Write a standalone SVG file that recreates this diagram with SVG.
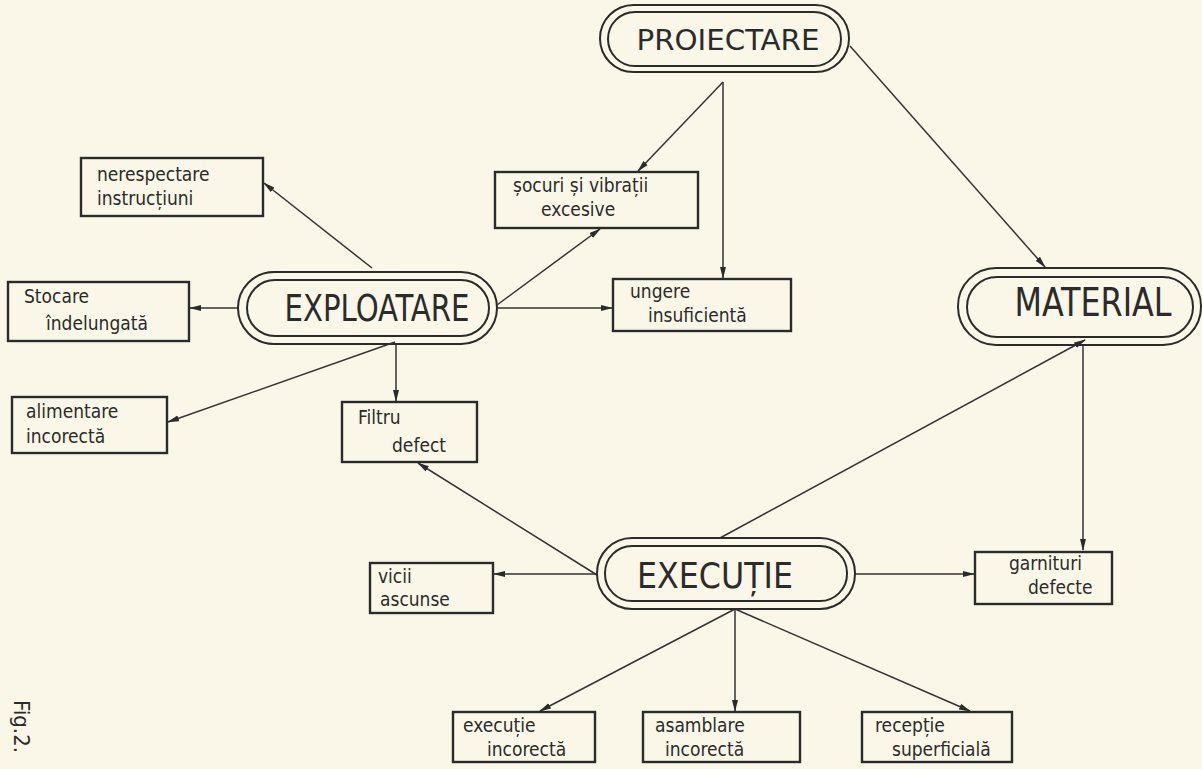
<svg xmlns="http://www.w3.org/2000/svg" width="1202" height="769" viewBox="0 0 1202 769">
<style>
.bg{fill:#faf7e8}
.o{fill:none;stroke:#2b2b2b;stroke-width:2}
.b{fill:none;stroke:#2b2b2b;stroke-width:2.4}
.big{font-family:"DejaVu Sans Condensed","DejaVu Sans",sans-serif;fill:#2b2b2b;text-anchor:middle}
.sm{font-family:"DejaVu Sans Condensed","DejaVu Sans",sans-serif;font-size:19px;fill:#2b2b2b}
.c{fill:none;stroke:#333;stroke-width:1.5;marker-end:url(#ah)}
</style>
<defs>
<marker id="ah" viewBox="0 0 12 8" refX="11" refY="4" markerWidth="12" markerHeight="8" markerUnits="userSpaceOnUse" orient="auto">
<path d="M0,1 L12,4 L0,7 Z" fill="#2b2b2b"/>
</marker>
</defs>
<rect class="bg" x="0" y="0" width="1202" height="769"/>
<g id="connectors">
<line class="c" x1="723" y1="82" x2="638" y2="171"/>
<line class="c" x1="723" y1="82" x2="723" y2="278"/>
<line class="c" x1="850" y1="46" x2="1045" y2="267"/>
<line class="c" x1="372" y1="268" x2="264" y2="183"/>
<line class="c" x1="497" y1="305" x2="600" y2="229"/>
<line class="c" x1="497" y1="308" x2="612" y2="308"/>
<line class="c" x1="238" y1="308" x2="190" y2="308"/>
<line class="c" x1="395" y1="342" x2="168" y2="422"/>
<line class="c" x1="396" y1="344" x2="396" y2="401"/>
<line class="c" x1="597" y1="575" x2="418" y2="463"/>
<line class="c" x1="720" y1="538" x2="1085" y2="340"/>
<line class="c" x1="1083" y1="345" x2="1083" y2="550"/>
<line class="c" x1="597" y1="574" x2="494" y2="574"/>
<line class="c" x1="855" y1="574" x2="974" y2="574"/>
<line class="c" x1="735" y1="609" x2="540" y2="711"/>
<line class="c" x1="735" y1="609" x2="735" y2="711"/>
<line class="c" x1="735" y1="609" x2="970" y2="711"/>
</g>
<g id="proiectare">
<rect class="o" x="600" y="5" width="249" height="67" rx="33.5"/>
<rect class="o" x="608" y="12" width="233" height="54" rx="27"/>
<text class="big" x="728" y="50" font-size="29" textLength="183" lengthAdjust="spacingAndGlyphs">PROIECTARE</text>
</g>
<g id="exploatare">
<rect class="o" x="238" y="272" width="259" height="72" rx="36"/>
<rect class="o" x="247" y="280" width="242" height="56" rx="28"/>
<text class="big" x="377" y="321" font-size="37" textLength="185" lengthAdjust="spacingAndGlyphs">EXPLOATARE</text>
</g>
<g id="material">
<rect class="o" x="958" y="268" width="243" height="77" rx="38"/>
<rect class="o" x="967" y="277" width="226" height="60" rx="30"/>
<text class="big" x="1093" y="316" font-size="39" textLength="157" lengthAdjust="spacingAndGlyphs">MATERIAL</text>
</g>
<g id="executie">
<rect class="o" x="597" y="538" width="258" height="71" rx="35"/>
<rect class="o" x="605" y="546" width="242" height="55" rx="27"/>
<text class="big" x="715" y="588" font-size="36" textLength="156" lengthAdjust="spacingAndGlyphs">EXECUȚIE</text>
</g>
<g id="nerespectare">
<rect class="b" x="81" y="158" width="182" height="58"/>
<text class="sm" x="97" y="181">nerespectare</text>
<text class="sm" x="97" y="205">instrucțiuni</text>
</g>
<g id="socuri">
<rect class="b" x="495" y="172" width="203" height="56"/>
<text class="sm" x="513" y="192">șocuri și vibrații</text>
<text class="sm" x="541" y="216">excesive</text>
</g>
<g id="stocare">
<rect class="b" x="8" y="282" width="181" height="59"/>
<text class="sm" x="24" y="303">Stocare</text>
<text class="sm" x="46" y="330">îndelungată</text>
</g>
<g id="ungere">
<rect class="b" x="613" y="279" width="178" height="52"/>
<text class="sm" x="630" y="298">ungere</text>
<text class="sm" x="648" y="322">insuficientă</text>
</g>
<g id="alimentare">
<rect class="b" x="12" y="397" width="155" height="56"/>
<text class="sm" x="26" y="418">alimentare</text>
<text class="sm" x="26" y="443">incorectă</text>
</g>
<g id="filtru">
<rect class="b" x="342" y="402" width="135" height="60"/>
<text class="sm" x="358" y="424">Filtru</text>
<text class="sm" x="392" y="452">defect</text>
</g>
<g id="vicii">
<rect class="b" x="370" y="563" width="123" height="50"/>
<text class="sm" x="378" y="583">vicii</text>
<text class="sm" x="380" y="606">ascunse</text>
</g>
<g id="garnituri">
<rect class="b" x="975" y="552" width="137" height="52"/>
<text class="sm" x="1009" y="570">garnituri</text>
<text class="sm" x="1028" y="594">defecte</text>
</g>
<g id="executie-incorecta">
<rect class="b" x="453" y="712" width="142" height="50"/>
<text class="sm" x="463" y="732">execuție</text>
<text class="sm" x="487" y="756">incorectă</text>
</g>
<g id="asamblare">
<rect class="b" x="643" y="712" width="157" height="50"/>
<text class="sm" x="655" y="732">asamblare</text>
<text class="sm" x="665" y="756">incorectă</text>
</g>
<g id="receptie">
<rect class="b" x="862" y="712" width="150" height="50"/>
<text class="sm" x="875" y="732">recepție</text>
<text class="sm" x="892" y="756">superficială</text>
</g>
<text class="sm" x="0" y="0" transform="translate(14,700) rotate(90)" style="font-size:22px">Fig.2.</text>
</svg>
